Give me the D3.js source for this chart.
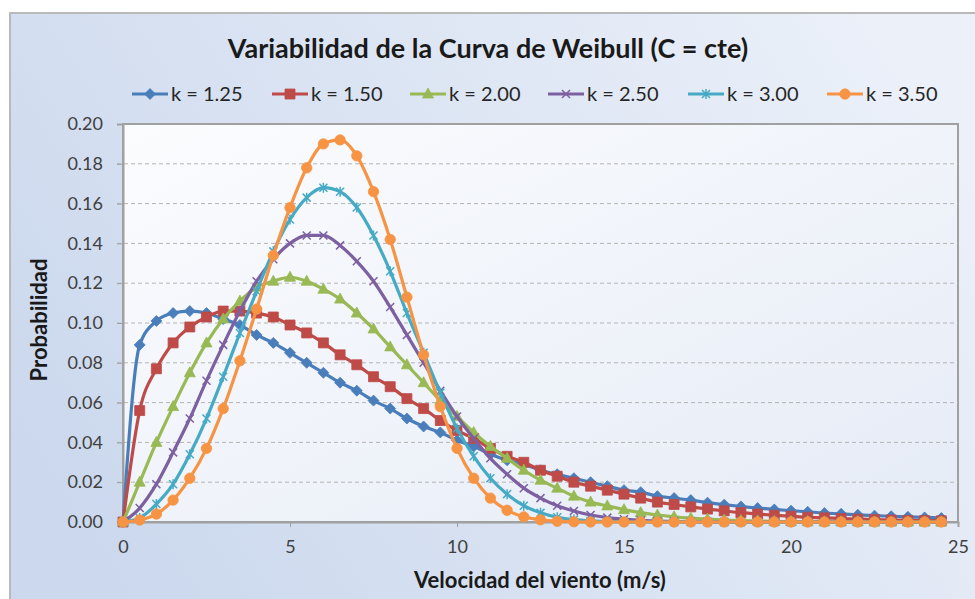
<!DOCTYPE html>
<html>
<head>
<meta charset="utf-8">
<title>Variabilidad de la Curva de Weibull</title>
<script src="https://cdn.jsdelivr.net/npm/d3@7/dist/d3.min.js"></script>
<style>
  body { margin: 0; background: #fff; }
  svg { display: block; font-family: Lato, "Open Sans", sans-serif; }
</style>
</head>
<body>
<svg id="chart" width="975" height="599"></svg>
<script>
// wind speed (m/s), one point every 0.5
const speeds = [0, 0.5, 1, 1.5, 2, 2.5, 3, 3.5, 4, 4.5, 5, 5.5, 6, 6.5, 7, 7.5, 8, 8.5, 9, 9.5,
  10, 10.5, 11, 11.5, 12, 12.5, 13, 13.5, 14, 14.5, 15, 15.5, 16, 16.5, 17, 17.5, 18, 18.5, 19, 19.5,
  20, 20.5, 21, 21.5, 22, 22.5, 23, 23.5, 24, 24.5];

// probability for each k
const k125 = [0, 0.089, 0.101, 0.105, 0.106, 0.105, 0.102, 0.099, 0.094, 0.090, 0.085, 0.080, 0.075, 0.070, 0.066, 0.061,
  0.057, 0.052, 0.048, 0.045, 0.041, 0.038, 0.034, 0.031, 0.029, 0.026, 0.024, 0.022, 0.020, 0.018, 0.016, 0.015,
  0.013, 0.012, 0.011, 0.0097, 0.0087, 0.0078, 0.0070, 0.0063, 0.0057, 0.0051, 0.0045, 0.0041, 0.0036, 0.0032,
  0.0029, 0.0026, 0.0023, 0.0020];
const k150 = [0, 0.056, 0.077, 0.090, 0.098, 0.103, 0.106, 0.106, 0.105, 0.103, 0.099, 0.095, 0.090, 0.084, 0.079, 0.073,
  0.068, 0.062, 0.057, 0.051, 0.046, 0.042, 0.037, 0.033, 0.030, 0.026, 0.023, 0.020, 0.018, 0.016, 0.014, 0.012,
  0.010, 0.0088, 0.0076, 0.0065, 0.0056, 0.0047, 0.0040, 0.0034, 0.0029, 0.0024, 0.0021, 0.0017, 0.0014, 0.0012,
  0.0010, 0.0008, 0.0007, 0.0006];
const k200 = [0, 0.020, 0.040, 0.058, 0.075, 0.090, 0.102, 0.111, 0.118, 0.121, 0.123, 0.121, 0.117, 0.112, 0.105, 0.097,
  0.088, 0.079, 0.070, 0.061, 0.053, 0.045, 0.038, 0.032, 0.026, 0.021, 0.017, 0.013, 0.010, 0.0081, 0.0062, 0.0047,
  0.0035, 0.0026, 0.0019, 0.0014, 0.0010, 0.0007, 0.0005, 0.0003, 0.0002, 0.0002, 0.0001, 0.0001, 0.0001, 0,
  0, 0, 0, 0];
const k250 = [0, 0.007, 0.019, 0.035, 0.052, 0.071, 0.089, 0.106, 0.121, 0.132, 0.140, 0.144, 0.144, 0.139, 0.131, 0.121,
  0.108, 0.094, 0.080, 0.066, 0.053, 0.042, 0.032, 0.024, 0.017, 0.012, 0.0082, 0.0055, 0.0035, 0.0022, 0.0014, 0.0008,
  0.0005, 0.0003, 0.0001, 0.0001, 0, 0, 0, 0, 0, 0, 0, 0, 0, 0, 0, 0, 0, 0];
const k300 = [0, 0.002, 0.009, 0.019, 0.034, 0.052, 0.073, 0.095, 0.116, 0.136, 0.152, 0.163, 0.168, 0.166, 0.158, 0.144,
  0.126, 0.105, 0.085, 0.065, 0.047, 0.033, 0.022, 0.014, 0.0082, 0.0046, 0.0024, 0.0012, 0.0006, 0.0003, 0.0001, 0,
  0, 0, 0, 0, 0, 0, 0, 0, 0, 0, 0, 0, 0, 0, 0, 0, 0, 0];
const k350 = [0, 0.001, 0.004, 0.011, 0.022, 0.037, 0.057, 0.081, 0.107, 0.134, 0.158, 0.178, 0.190, 0.192, 0.184, 0.166,
  0.142, 0.113, 0.084, 0.058, 0.037, 0.022, 0.012, 0.0059, 0.0026, 0.0011, 0.0004, 0.0001, 0, 0, 0, 0,
  0, 0, 0, 0, 0, 0, 0, 0, 0, 0, 0, 0, 0, 0, 0, 0, 0, 0];

const seriesNames = ["k = 1.25", "k = 1.50", "k = 2.00", "k = 2.50", "k = 3.00", "k = 3.50"];
const seriesValues = [k125, k150, k200, k250, k300, k350];
const colors = ["#4a7ebb", "#be4b48", "#98b954", "#7d60a0", "#46aac5", "#f69444"];
const markers = ["diamond", "square", "triangle", "cross", "star", "circle"];

const yTicks = [0, 0.02, 0.04, 0.06, 0.08, 0.10, 0.12, 0.14, 0.16, 0.18, 0.20];
const xTicks = [0, 5, 10, 15, 20, 25];

const svg = d3.select("#chart");
const plot = { left: 123, right: 958, top: 124, bottom: 522 };

const x = d3.scaleLinear().domain([0, 25]).range([plot.left, plot.right]);
const y = d3.scaleLinear().domain([0, 0.2]).range([plot.bottom, plot.top]);

// backgrounds
const defs = svg.append("defs");
const outerGrad = defs.append("linearGradient").attr("id", "outerBg")
  .attr("x1", 0).attr("y1", 0.7).attr("x2", 1).attr("y2", 0.3);
outerGrad.append("stop").attr("offset", "0%").attr("stop-color", "#cbd8ed");
outerGrad.append("stop").attr("offset", "100%").attr("stop-color", "#ebf0f9");
const plotGrad = defs.append("linearGradient").attr("id", "plotBg")
  .attr("x1", 0).attr("y1", 0).attr("x2", 1).attr("y2", 1);
plotGrad.append("stop").attr("offset", "0%").attr("stop-color", "#fbfcfe");
plotGrad.append("stop").attr("offset", "100%").attr("stop-color", "#e5ebf6");

svg.append("rect").attr("x", 10).attr("y", 13).attr("width", 975).attr("height", 599)
  .attr("fill", "url(#outerBg)").attr("stroke", "#b9b9b9").attr("stroke-width", 2);

svg.append("rect")
  .attr("x", plot.left).attr("y", plot.top)
  .attr("width", plot.right - plot.left).attr("height", plot.bottom - plot.top)
  .attr("fill", "url(#plotBg)").attr("stroke", "#a0a0a0").attr("stroke-width", 2);

// gridlines (dashed) + left tick stubs
svg.append("g").selectAll("line")
  .data(yTicks.filter(d => d > 0 && d < 0.2))
  .join("line")
  .attr("x1", plot.left - 6).attr("x2", plot.right)
  .attr("y1", d => y(d)).attr("y2", d => y(d))
  .attr("stroke", "#b4b4b4").attr("stroke-width", 1)
  .attr("stroke-dasharray", "4,3");

// axes
const yAxis = svg.append("g")
  .attr("transform", `translate(${plot.left},0)`)
  .call(d3.axisLeft(y).tickValues(yTicks).tickFormat(d3.format(".2f")).tickSize(6).tickPadding(14));
const xAxis = svg.append("g")
  .attr("transform", `translate(0,${plot.bottom})`)
  .call(d3.axisBottom(x).tickValues(xTicks).tickFormat(d3.format("d")).tickSize(5).tickPadding(13));

[yAxis, xAxis].forEach(a => {
  a.select(".domain").attr("stroke", "#a0a0a0").attr("stroke-width", 2);
  a.selectAll(".tick line").attr("stroke", "#a0a0a0");
  a.selectAll(".tick text").attr("font-size", 18).attr("fill", "#404040")
    .attr("font-family", "Lato, sans-serif");
});

// marker shapes
function markerPath(type) {
  if (type === "diamond") return "M0,-5.5L5.5,0L0,5.5L-5.5,0Z";
  if (type === "square") return "M-5,-5h10v10h-10Z";
  if (type === "triangle") return "M0,-6L5.5,4L-5.5,4Z";
  if (type === "cross") return "M-4,-4L4,4M4,-4L-4,4";
  if (type === "star") return "M-4,-4L4,4M4,-4L-4,4M0,-5L0,5";
  return d3.symbol(d3.symbolCircle, Math.PI * 5.2 * 5.2)();
}
const strokeOnly = t => t === "cross" || t === "star";

const line = d3.line()
  .x((d, i) => x(speeds[i]))
  .y(d => y(d))
  .curve(d3.curveMonotoneX);

seriesValues.forEach((vals, s) => {
  const g = svg.append("g");
  g.append("path")
    .attr("d", line(vals))
    .attr("fill", "none")
    .attr("stroke", colors[s])
    .attr("stroke-width", 3.2)
    .attr("stroke-linejoin", "round");
  g.selectAll("path.m")
    .data(vals)
    .join("path")
    .attr("class", "m")
    .attr("transform", (d, i) => `translate(${x(speeds[i])},${y(d)})`)
    .attr("d", markerPath(markers[s]))
    .attr("fill", strokeOnly(markers[s]) ? "none" : colors[s])
    .attr("stroke", colors[s])
    .attr("stroke-width", strokeOnly(markers[s]) ? 1.5 : 0.8);
});

// title
svg.append("text")
  .attr("x", 488).attr("y", 58)
  .attr("text-anchor", "middle")
  .attr("font-size", 27).attr("font-weight", "bold").attr("fill", "#1a1a1a")
  .text("Variabilidad de la Curva de Weibull (C = cte)");

// legend
const legendX = [132, 272, 410, 548, 688, 827];
const legend = svg.append("g").selectAll("g")
  .data(seriesNames)
  .join("g")
  .attr("transform", (d, i) => `translate(${legendX[i]},94)`);
legend.append("line")
  .attr("x1", 0).attr("x2", 36).attr("y1", 0).attr("y2", 0)
  .attr("stroke", (d, i) => colors[i]).attr("stroke-width", 3);
legend.append("path")
  .attr("transform", "translate(18,0)")
  .attr("d", (d, i) => markerPath(markers[i]))
  .attr("fill", (d, i) => strokeOnly(markers[i]) ? "none" : colors[i])
  .attr("stroke", (d, i) => colors[i])
  .attr("stroke-width", (d, i) => strokeOnly(markers[i]) ? 1.5 : 0.8);
legend.append("text")
  .attr("x", 39).attr("y", 7)
  .attr("font-size", 20).attr("fill", "#262626")
  .text(d => d);

// axis titles
svg.append("text")
  .attr("x", 540).attr("y", 588)
  .attr("text-anchor", "middle")
  .attr("font-size", 22).attr("font-weight", "bold").attr("fill", "#1a1a1a")
  .text("Velocidad del viento (m/s)");
svg.append("text")
  .attr("transform", "translate(47,320) rotate(-90)")
  .attr("text-anchor", "middle")
  .attr("font-size", 22).attr("font-weight", "bold").attr("fill", "#1a1a1a")
  .text("Probabilidad");
</script>
</body>
</html>
